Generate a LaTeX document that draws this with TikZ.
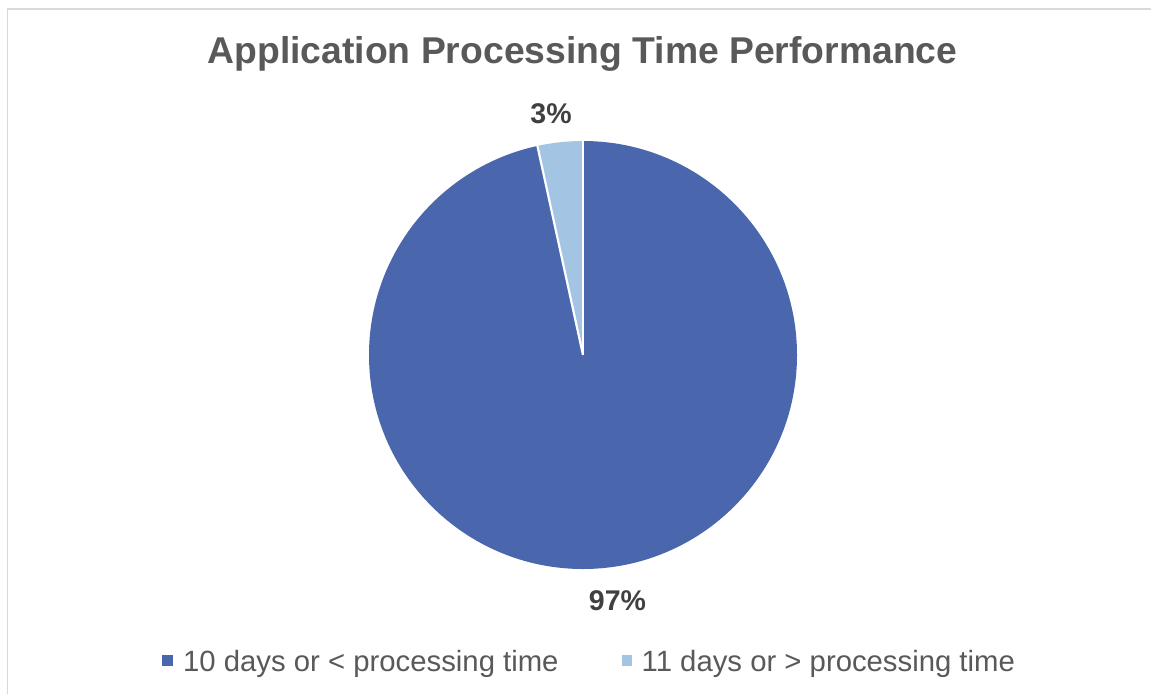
\documentclass[tikz,border=0pt]{standalone}
\usepackage{fontspec}
\setmainfont{Liberation Sans}
\definecolor{darkslice}{HTML}{4A66AC}
\definecolor{lightslice}{HTML}{A3C4E2}
\definecolor{titlegray}{HTML}{595959}
\definecolor{labelgray}{HTML}{404040}
\definecolor{framegray}{HTML}{D9D9D9}
\begin{document}
\begin{tikzpicture}[x=1pt,y=-1pt,
  titletext/.style={inner sep=0pt,anchor=base,text=titlegray,font=\fontsize{37.3}{44}\selectfont\bfseries},
  pctlabel/.style={inner sep=0pt,anchor=base,text=labelgray,font=\fontsize{28.5}{34}\selectfont\bfseries},
  legtext/.style={inner sep=0pt,anchor=base west,text=titlegray,font=\fontsize{29.3}{35}\selectfont},
  legkey/.style={minimum size=10.5pt,inner sep=0pt,draw=none}]
\useasboundingbox (0,0) rectangle (1151,694);
\fill[white] (0,0) rectangle (1151,694);
% chart frame (partly visible)
\draw[framegray,line width=1.5pt] (7.5,694) -- (7.5,9) -- (1151,9);
% title
\node[titletext] (title) at (582.5,63) {Application Processing Time Performance};
% pie (y axis points down, so visual angle a is written -a)
\coordinate (c) at (583,355);
\def\R{214}
\fill[darkslice] (c) -- ++(-90:\R) arc[start angle=-90,end angle=257.7,radius=\R] -- cycle;
\fill[lightslice] (c) -- ++(-90:\R) arc[start angle=-90,end angle=-102.3,radius=\R] -- cycle;
\draw[white,line width=2.2pt] (c) -- ++(-90:\R);
\draw[white,line width=2.2pt] (c) -- ++(-102.3:\R);
% percentage labels
\node[pctlabel] (p3) at (551,123) {3\%};
\node[pctlabel] (p97) at (617.5,610) {97\%};
% legend
\node[legkey,fill=darkslice] (k1) at (167.5,660.5) {};
\node[legtext] (l1) at (183,671) {10 days or < processing time};
\node[legkey,fill=lightslice] (k2) at (627,660.5) {};
\node[legtext] (l2) at (641.5,671) {11 days or > processing time};
\end{tikzpicture}
\end{document}
